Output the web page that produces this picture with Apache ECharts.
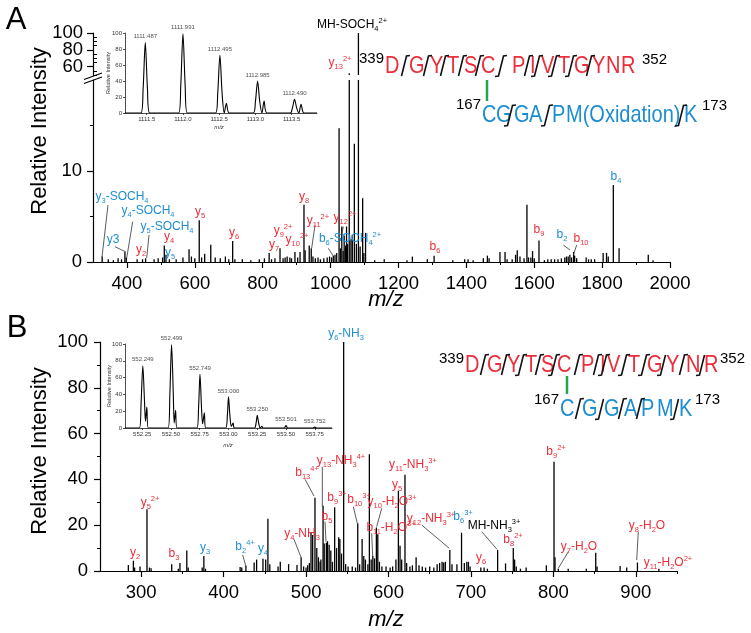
<!DOCTYPE html>
<html><head><meta charset="utf-8">
<script src="https://cdn.jsdelivr.net/npm/echarts@6/dist/echarts.min.js"></script>
<style>html,body{margin:0;padding:0;background:#fff}#c{width:751px;height:633px}</style>
</head><body><div id="c"></div>
<script>
// ---------------- DATA ----------------
// Panel A: MS/MS stick spectrum (m/z, relative intensity)
const aMz  = [327,345,360,374,384,394,398,430,446,455,480,492,505,510,515,525,545,565,583,590,600,613,620,629,647,660,675,690,700,711.5,718,740,765,790,805,819,826,836,851,860,866,872,880,885,895,903,910,921.6,925,937,943,948,955,963,970,980,990,997,1003,1008,1013,1018,1025,1029,1033,1037,1040,1044,1047,1050,1055,1060,1064,1070,1076,1082,1087,1094.5,1098,1103,1130,1158,1225,1241,1285,1305,1360,1395,1405,1420,1450,1462,1467,1499,1514,1520,1535,1545,1550,1558,1570,1578.5,1583,1590,1595,1600,1614,1630,1640,1650,1660,1670,1680,1690,1695,1700,1705,1710,1716,1719,1725,1753,1760,1768,1778,1803,1813,1818,1833,1850,1936,1950];
const aInt = [0.6,0.3,0.2,0.4,0.3,1.1,0.5,0.3,0.3,0.4,0.3,0.4,0.5,1.8,0.8,0.3,0.3,0.5,1.4,0.6,0.4,4.6,0.5,0.9,1.9,0.5,0.4,0.6,0.3,2.3,0.3,0.3,0.2,0.3,0.4,1.0,0.3,0.4,1.5,0.4,0.5,0.6,0.5,0.4,1.1,0.5,1.1,6.3,1.3,1.8,1.5,0.6,0.4,0.5,0.3,0.4,0.5,0.6,0.5,0.7,0.8,1.0,14.7,1.5,3.9,1.2,2.9,1.8,3.9,2.0,52,2.5,3.0,13,2.0,100,1.7,7,1.0,3.2,0.2,0.3,0.2,0.6,0.3,0.7,0.2,0.3,0.3,0.2,0.4,0.7,0.4,1.1,1.1,0.3,0.3,0.8,1.3,0.6,0.4,6.3,0.5,0.5,1.2,0.4,2.35,0.2,0.3,0.3,0.3,0.3,0.4,0.5,0.6,0.6,0.8,0.5,1.1,0.7,0.4,0.5,0.3,0.3,0.3,1.0,1.0,0.6,8.46,1.5,0.8,0.2];

// Panel B: MS/MS stick spectrum
const bMz  = [284.4,290.5,292,298.6,307,310,312,337,345,347,355.3,357,374,376,378,420,422,427,437,440,447.7,451,453.7,456,466,468.7,478.8,489,494,497,500,502,504,506,508,510.8,513,515,517,518,520.6,522,524.6,526,528,530,532,534.7,537,539.6,541,543,545.6,548,551,556,560,562.7,565,568,570,572,575,576.8,579,581,583,585.3,587,589,592,597,602,605,609,612,614,616,620,622,626,629,633.5,637,641,645,650,655,659,662,665,667,669,674.4,677,683,688.6,692,695,697,699,712,716,720,732.4,742,751.4,753,755,760,767,791.5,800.8,802,806,818,840,851.4,853,881,889,902,928];
const bInt = [2.6,4.5,1.5,2.0,27,1.5,1.2,3.0,1.0,3.5,9,1.5,1.5,6.5,1.0,1.8,1.5,2.3,3.7,5,5.4,5,22.8,3,2,4,3,2.6,6,2,1.5,2.5,3.5,16.7,15.7,32,10,6,4,5,28.5,12,12.3,13,11.5,9,4,27.8,10,14.7,14,7.6,100,3,2,2,1.5,20.8,3,14,6.5,5,3,51,5,6.5,5.5,19,16,4,2,2,1.5,2,5,35,11,5,42,3.5,2,2.5,6,2.5,2,1.5,2,1.5,3,3.5,4,3.7,4,9.2,3,3,16.7,3.5,4,4,2,1.5,1.5,1,9.2,3.3,10,5,2,1,1.5,2.5,47.7,6,1,1,1,8,2,2.2,1.5,3.7,1];

// Panel A inset: isotope envelope profile
const aInsMz  = [1111.2,1111.42,1111.45,1111.48,1111.51,1111.54,1111.94,1111.97,1112.0,1112.03,1112.06,1112.45,1112.48,1112.51,1112.54,1112.57,1112.6,1112.64,1112.97,1113.0,1113.03,1113.06,1113.09,1113.12,1113.16,1113.48,1113.51,1113.54,1113.57,1113.6,1113.63,1113.67,1113.85];
const aInsInt = [0,0,30,88,30,0,0,35,99,35,0,0,25,72,25,0,12,0,0,14,40,14,0,15,0,0,6,17,6,0,11,0,0];
const aInsPkMz  = [1111.48,1112.0,1112.51,1113.03,1113.54];
const aInsPkInt = [88,99,72,40,17];
const aInsPkTxt = ['1111.487','1111.991','1112.495','1112.985','1112.490'];

// Panel B inset
const bInsMz  = [552.1,552.225,552.24,552.255,552.27,552.278,552.29,552.302,552.475,552.49,552.505,552.52,552.528,552.54,552.552,552.725,552.74,552.752,552.765,552.775,552.79,552.802,552.975,552.99,553.0,553.012,553.025,553.04,553.052,553.225,553.24,553.25,553.262,553.275,553.29,553.3,553.485,553.5,553.515,553.735,553.75,553.765,553.9];
const bInsInt = [0,0,30,74,30,8,25,0,0,40,99,40,6,21,0,0,25,64,25,5,18,0,0,15,37,15,2,6,0,0,6,15,6,0,2,0,0,3,0,0,1,0,0];
const bInsPkMz  = [552.255,552.505,552.752,553.0,553.25,553.5,553.75];
const bInsPkInt = [74,99,64,37,15,3,1];
const bInsPkTxt = ['552.249','552.499','552.749','553.000','553.250','553.501','553.752'];

// Tick labels
const aXTicks = [400,600,800,1000,1200,1400,1600,1800,2000];
const aXMinor = [500,700,900,1100,1300,1500,1700,1900];
const aYLowTicks = [0,10];
const aYLowMinor = [5,15];
const aYHighTicks = [60,100];
const aYHighTicks2 = [80];
const aYHighMinor = [50,55,65,70,75,85,90,95];
const aInsXTicks = [1111.5,1112.0,1112.5,1113.0,1113.5];
const insYTicks = [0,20,40,60,80,100];
const bXTicks = [300,400,500,600,700,800,900];
const bXMinor = [350,450,550,650,750,850,950];
const bYTicks = [0,20,40,60,80,100];
const bYMinor = [10,30,50,70,90];
const bInsXTicks = [552.25,552.5,552.75,553.0,553.25,553.5,553.75];

// ---------------- STYLE ----------------
const RED = '#ec2d3a', BLUE = '#1d8dd2', GREEN = '#27a348', BLK = '#000';
const FF = '"Liberation Sans", Arial, Helvetica, sans-serif';

const pair = (xs, ys) => xs.map((x, i) => [x, ys[i]]);
const triple = (xs, ys, ts) => xs.map((x, i) => [x, ys[i], ts[i]]);
const plain = v => String(v);

function mainLabel(vals, margin) {
  return { customValues: vals, color: BLK, fontSize: 18.5, fontFamily: FF, margin, formatter: plain,
    hideOverlap: false, showMinLabel: true, showMaxLabel: true };
}
function xAxis(grid, min, max, o) {
  return Object.assign({
    type: 'value', gridIndex: grid, min, max, position: 'bottom',
    splitLine: { show: false },
    axisLine: { show: true, onZero: false, lineStyle: { color: BLK, width: 1.2 } },
    axisTick: { show: true, length: 6, lineStyle: { color: BLK, width: 1.2 } },
    axisLabel: { show: true, color: BLK, fontSize: 18.5, fontFamily: FF, margin: 12 }
  }, o);
}
function yAxis(grid, min, max, o) {
  return Object.assign({
    type: 'value', gridIndex: grid, min, max, position: 'left',
    splitLine: { show: false },
    axisLine: { show: true, onZero: false, lineStyle: { color: BLK, width: 1.2 } },
    axisTick: { show: true, length: 6, lineStyle: { color: BLK, width: 1.2 } },
    axisLabel: { show: true, color: BLK, fontSize: 18.5, fontFamily: FF, margin: 11 }
  }, o);
}
const hiddenLine = { show: false };
const noLabel = { show: false };
const insLine = { show: true, onZero: false, lineStyle: { color: '#222', width: 0.8 } };

const xAxes = [
  xAxis(0, 300, 2000, { axisTick: { length: 6, customValues: aXTicks, lineStyle: { color: BLK, width: 1.2 } },
    axisLabel: mainLabel(aXTicks, 12) }),
  xAxis(0, 300, 2000, { axisLine: hiddenLine, axisLabel: noLabel,
    axisTick: { length: 3, customValues: aXMinor, lineStyle: { color: BLK, width: 1 } } }),
  xAxis(1, 300, 2000, { show: false }),
  xAxis(2, 1111.2, 1113.85, { axisLine: insLine,
    axisTick: { length: 2, customValues: aInsXTicks, lineStyle: { color: '#222', width: 0.8 } },
    axisLabel: { customValues: aInsXTicks, color: '#333', fontSize: 6, fontFamily: FF, margin: 3, hideOverlap: false, formatter: v => v.toFixed(1) } }),
  xAxis(3, 250, 950, { axisTick: { length: 6, customValues: bXTicks, lineStyle: { color: BLK, width: 1.2 } },
    axisLabel: mainLabel(bXTicks, 12) }),
  xAxis(3, 250, 950, { axisLine: hiddenLine, axisLabel: noLabel,
    axisTick: { length: 3, customValues: bXMinor, lineStyle: { color: BLK, width: 1 } } }),
  xAxis(4, 552.1, 553.9, { axisLine: insLine,
    axisTick: { length: 2, customValues: bInsXTicks, lineStyle: { color: '#222', width: 0.8 } },
    axisLabel: { customValues: bInsXTicks, color: '#333', fontSize: 6, fontFamily: FF, margin: 3, hideOverlap: false, formatter: v => v.toFixed(2) } })
];

const yAxes = [
  yAxis(0, 0, 20, { axisTick: { length: 6, customValues: aYLowTicks, lineStyle: { color: BLK, width: 1.2 } },
    axisLabel: mainLabel(aYLowTicks, 11) }),
  yAxis(0, 0, 20, { axisLine: hiddenLine, axisLabel: noLabel,
    axisTick: { length: 3, customValues: aYLowMinor, lineStyle: { color: BLK, width: 1 } } }),
  yAxis(1, 50, 100, { axisTick: { length: 6, customValues: aYHighTicks.concat(aYHighTicks2), lineStyle: { color: BLK, width: 1.2 } },
    axisLabel: mainLabel(aYHighTicks, 10) }),
  yAxis(1, 50, 100, { axisLine: hiddenLine, axisLabel: mainLabel(aYHighTicks2, 10),
    axisTick: { inside: true, length: 4, customValues: aYHighMinor, lineStyle: { color: BLK, width: 1 } } }),
  yAxis(2, 0, 100, { axisLine: insLine,
    axisTick: { length: 2, customValues: insYTicks, lineStyle: { color: '#222', width: 0.8 } },
    axisLabel: { customValues: insYTicks, color: '#333', fontSize: 6, fontFamily: FF, margin: 3, hideOverlap: false } }),
  yAxis(3, 0, 100, { axisTick: { length: 6, customValues: bYTicks, lineStyle: { color: BLK, width: 1.2 } },
    axisLabel: mainLabel(bYTicks, 12) }),
  yAxis(3, 0, 100, { axisLine: hiddenLine, axisLabel: noLabel,
    axisTick: { length: 3, customValues: bYMinor, lineStyle: { color: BLK, width: 1 } } }),
  yAxis(4, 0, 100, { axisLine: insLine,
    axisTick: { length: 2, customValues: insYTicks, lineStyle: { color: '#222', width: 0.8 } },
    axisLabel: { customValues: insYTicks, color: '#333', fontSize: 6, fontFamily: FF, margin: 3, hideOverlap: false } })
];

const grids = [
  { left: 93, top: 80, width: 577, height: 182 },
  { left: 93, top: 33, width: 577, height: 42 },
  { left: 125, top: 33, width: 192, height: 80 },
  { left: 100, top: 342, width: 577, height: 229 },
  { left: 125, top: 344, width: 207, height: 84 }
];

const stick = (xi, yi, data) => ({
  type: 'bar', xAxisIndex: xi, yAxisIndex: yi, data, barWidth: 1.3, clip: true,
  itemStyle: { color: BLK }, silent: true, z: 3
});
const profile = (xi, yi, data) => ({
  type: 'line', xAxisIndex: xi, yAxisIndex: yi, data, smooth: 0.3, symbol: 'none',
  lineStyle: { color: BLK, width: 1.1 }, silent: true, z: 4
});
const peakLabels = (xi, yi, data) => ({
  type: 'scatter', xAxisIndex: xi, yAxisIndex: yi, data, symbolSize: 0.01, silent: true, z: 5,
  itemStyle: { color: 'rgba(0,0,0,0)' },
  label: { show: true, position: 'top', distance: 3, fontSize: 6, color: '#222', fontFamily: FF,
    formatter: p => p.value[2] }
});

// --------------- annotations ----------------
function richText(str) {
  let out = '', i = 0;
  const isMark = k => (str[k] === '_' || str[k] === '^') && str[k + 1] === '{';
  while (i < str.length) {
    if (isMark(i)) {
      const j = str.indexOf('}', i);
      out += '{' + (str[i] === '_' ? 'sub' : 'sup') + '|' + str.slice(i + 2, j) + '}';
      i = j + 1;
    } else {
      let j = i; while (j < str.length && !isMark(j)) j++;
      out += '{n|' + str.slice(i, j) + '}';
      i = j;
    }
  }
  return out;
}
function lbl(t, color, x, y, size) {
  size = size || 12;
  return {
    type: 'text', x, y, z: 10, silent: true,
    style: {
      text: richText(t), align: 'center', verticalAlign: 'middle', textAlign: 'center', textVerticalAlign: 'middle',
      rich: {
        n: { fontSize: size, fontFamily: FF, fill: color, color: color, lineHeight: 16 },
        sub: { fontSize: 7.5, fontFamily: FF, fill: color, color: color, lineHeight: 8, verticalAlign: 'bottom' },
        sup: { fontSize: 7.5, fontFamily: FF, fill: color, color: color, lineHeight: 8, verticalAlign: 'top' }
      }
    }
  };
}
function ptr(x1, y1, x2, y2) {
  return { type: 'line', z: 9, silent: true, shape: { x1, y1, x2, y2 }, style: { stroke: '#333', lineWidth: 0.8 } };
}
function txt(t, x, y, font, color, align, extra) {
  return Object.assign({
    type: 'text', x, y, z: 10, silent: true,
    style: { text: t, font, fill: color, align: align || 'center', verticalAlign: 'middle', textAlign: align || 'center', textVerticalAlign: 'middle' }
  }, extra || {});
}
function letters(list, color, y) {
  return list.map(([ch, x]) => txt(ch, x, y, '20px ' + FF, color, 'left', { scaleY: 1.2 }));
}
function mk(x, y, t) {
  const pts = [];
  if (t.indexOf('t') >= 0) pts.push([x + 6, y - 10.5]);
  pts.push([x + 2.5, y - 10]);
  pts.push([x - 2.5, y + 10]);
  if (t.indexOf('b') >= 0) pts.push([x - 6, y + 10.5]);
  return { type: 'polyline', z: 10, silent: true, shape: { points: pts }, style: { stroke: '#111', lineWidth: 1.6, fill: null } };
}

const G = [];
G.push(txt('A', 16, 20, '31px ' + FF, BLK));
G.push(txt('B', 17, 328, '31px ' + FF, BLK));
G.push(txt('Relative Intensity', 40, 131, '22px ' + FF, BLK, 'center', { rotation: Math.PI / 2 }));
G.push(txt('Relative Intensity', 40, 451, '22px ' + FF, BLK, 'center', { rotation: Math.PI / 2 }));
G.push(txt('m/z', 386, 300, 'italic 22px ' + FF, BLK));
G.push(txt('m/z', 386, 620, 'italic 22px ' + FF, BLK));
G.push(txt('Relative Intensity', 108, 73, '5.5px ' + FF, '#333', 'center', { rotation: Math.PI / 2 }));
G.push(txt('m/z', 219, 127, 'italic 6px ' + FF, '#333'));
G.push(txt('Relative Intensity', 109, 386, '5.5px ' + FF, '#333', 'center', { rotation: Math.PI / 2 }));
G.push(txt('m/z', 228, 445, 'italic 6px ' + FF, '#333'));
G.push({ type: 'line', z: 11, silent: true, shape: { x1: 84, y1: 79.5, x2: 102, y2: 73 }, style: { stroke: BLK, lineWidth: 1.2 } });
G.push({ type: 'line', z: 11, silent: true, shape: { x1: 84, y1: 83.5, x2: 102, y2: 77 }, style: { stroke: BLK, lineWidth: 1.2 } });

[
  ['y_{3}-SOCH_{4}', BLUE, 122, 197], ['y3', BLUE, 113, 240], ['y_{4}-SOCH_{4}', BLUE, 148, 211],
  ['y_{5}-SOCH_{4}', BLUE, 167, 227], ['y_{2}', RED, 141, 250], ['y_{4}', RED, 169, 237],
  ['y_{5}', BLUE, 170, 253], ['y_{5}', RED, 200, 212], ['y_{6}', RED, 234, 233], ['y_{7}', RED, 274, 245],
  ['y_{9}^{2+}', RED, 283, 231], ['y_{10}^{2+}', RED, 297, 240], ['y_{8}', RED, 304, 197],
  ['y_{11}^{2+}', RED, 318, 221], ['y_{12}^{2+}', RED, 345, 218], ['b_{6}-SOCH_{4}^{2+}', BLUE, 350, 239],
  ['b_{6}', RED, 435, 247], ['b_{9}', RED, 539, 230], ['b_{2}', BLUE, 562, 235], ['b_{10}', RED, 581, 239],
  ['b_{4}', BLUE, 616, 177], ['MH-SOCH_{4}^{2+}', BLK, 352, 25], ['y_{13}^{2+}', RED, 340, 63]
].forEach(a => G.push(lbl(a[0], a[1], a[2], a[3])));
[
  [108, 205, 102, 257], [115, 246.7, 126, 252], [132.7, 221.7, 126.7, 258], [149, 235, 146.7, 258],
  [315, 225, 311.7, 248], [343.3, 226.7, 341.7, 235], [328.3, 248.3, 333.3, 256],
  [563.3, 245, 570, 250], [576.7, 245, 573.3, 255]
].forEach(p => G.push(ptr(...p)));

[
  ['y_{2}', RED, 135, 553], ['y_{5}^{2+}', RED, 150, 503], ['b_{3}', RED, 174, 554], ['y_{3}', BLUE, 205, 548],
  ['b_{2}^{4+}', BLUE, 245, 547], ['y_{4}', BLUE, 263, 549], ['y_{4}-NH_{3}', RED, 302, 534],
  ['b_{13}^{4+}', RED, 307, 473], ['y_{13}-NH_{3}^{4+}', RED, 341, 461], ['b_{9}^{3+}', RED, 337, 498],
  ['b_{5}', RED, 327, 517], ['b_{10}^{3+}', RED, 359, 500], ['y_{10}-H_{2}O^{3+}', RED, 392, 502],
  ['b_{11}-H_{2}O^{3+}', RED, 391, 528], ['y_{5}', RED, 397, 485], ['y_{11}-NH_{3}^{3+}', RED, 413, 465],
  ['y_{12}-NH_{3}^{3+}', RED, 431, 519], ['b_{6}^{3+}', BLUE, 463, 517], ['MH-NH_{3}^{3+}', BLK, 494, 526],
  ['y_{6}', RED, 481, 558], ['b_{8}^{2+}', RED, 513, 540], ['b_{9}^{2+}', RED, 556, 452],
  ['y_{7}-H_{2}O', RED, 579, 547], ['y_{8}-H_{2}O', RED, 647, 526], ['y_{11}-H_{2}O^{2+}', RED, 668, 563],
  ['y_{6}-NH_{3}', BLUE, 346, 334]
].forEach(a => G.push(lbl(a[0], a[1], a[2], a[3])));
[
  [242.7, 555, 246, 566.7], [294, 539.3, 301, 557.3], [305, 479.3, 314, 496], [322.3, 467, 322.3, 506.7],
  [325, 521.7, 326, 541.7], [353.3, 506.7, 357.3, 523.3], [381.7, 508.3, 376.7, 526.7], [371.7, 533.3, 372.7, 556.7],
  [421.7, 525, 449.3, 548.3], [481.7, 531.7, 497, 549.3], [568.3, 551.7, 558.3, 568.3], [638.3, 531.7, 636.7, 560]
].forEach(p => G.push(ptr(...p)));

const SUPF = '15px ' + FF;
G.push(txt('339', 384, 59, SUPF, BLK, 'right'));
G.push(...letters([['D',385],['G',409],['Y',430],['T',447],['S',464],['C',481],['P',512],['I',530],['V',541],['T',558],['G',574],['Y',592],['N',606],['R',621]], RED, 66));
G.push(txt('352', 642, 60, SUPF, BLK, 'left'));
G.push(txt('167', 481, 105, SUPF, BLK, 'right'));
G.push(...letters([['C',482],['G',496],['G',514],['A',529],['P',552],['M(Oxidation)',566],['K',684]], BLUE, 115.5));
G.push(txt('173', 702, 106, SUPF, BLK, 'left'));
G.push({ type: 'line', z: 10, silent: true, shape: { x1: 487, y1: 80, x2: 487, y2: 101 }, style: { stroke: GREEN, lineWidth: 2.5 } });
[[404,'t'],[426,'t'],[443,'t'],[461,'t'],[478,'t'],[501,'tb'],[527,'t'],[537,'tb'],[554,'tb'],[571,'tb'],[589,'t']].forEach(m => G.push(mk(m[0], 66, m[1])));
[[510,'tb'],[547,'tb'],[681,'tb']].forEach(m => G.push(mk(m[0], 115.5, m[1])));

G.push(txt('339', 464, 359, SUPF, BLK, 'right'));
G.push(...letters([['D',465],['G',487],['Y',507],['T',525],['S',541],['C',557],['P',581],['I',600],['V',607],['T',628],['G',647],['Y',666],['N',686],['R',704]], RED, 365));
G.push(txt('352', 720, 359, SUPF, BLK, 'left'));
G.push(txt('167', 559, 400, SUPF, BLK, 'right'));
G.push(...letters([['C',560],['G',582],['G',604],['A',624],['P',641],['M',657],['K',679]], BLUE, 409));
G.push(txt('173', 695, 400, SUPF, BLK, 'left'));
G.push({ type: 'line', z: 10, silent: true, shape: { x1: 567, y1: 376, x2: 567, y2: 394 }, style: { stroke: GREEN, lineWidth: 2.5 } });
[[483,'t'],[504,'t'],[521,'tb'],[538,'t'],[554,'tb'],[577,'t'],[596,'t'],[604,'tb'],[624,'tb'],[644,'tb'],[663,'b'],[682,'t'],[702,'b']].forEach(m => G.push(mk(m[0], 365, m[1])));
[[578,'t'],[601,'b'],[621,'t'],[639,'t'],[676,'b']].forEach(m => G.push(mk(m[0], 409, m[1])));

const option = {
  animation: false,
  backgroundColor: '#fff',
  grid: grids,
  xAxis: xAxes,
  yAxis: yAxes,
  series: [
    stick(0, 0, pair(aMz, aInt)),
    stick(2, 2, pair(aMz, aInt)),
    profile(3, 4, pair(aInsMz, aInsInt)),
    peakLabels(3, 4, triple(aInsPkMz, aInsPkInt, aInsPkTxt)),
    stick(4, 5, pair(bMz, bInt)),
    profile(6, 7, pair(bInsMz, bInsInt)),
    peakLabels(6, 7, triple(bInsPkMz, bInsPkInt, bInsPkTxt))
  ],
  graphic: G
};
const chart = echarts.init(document.getElementById('c'), null, { renderer: 'canvas' });
chart.setOption(option);
</script></body></html>
